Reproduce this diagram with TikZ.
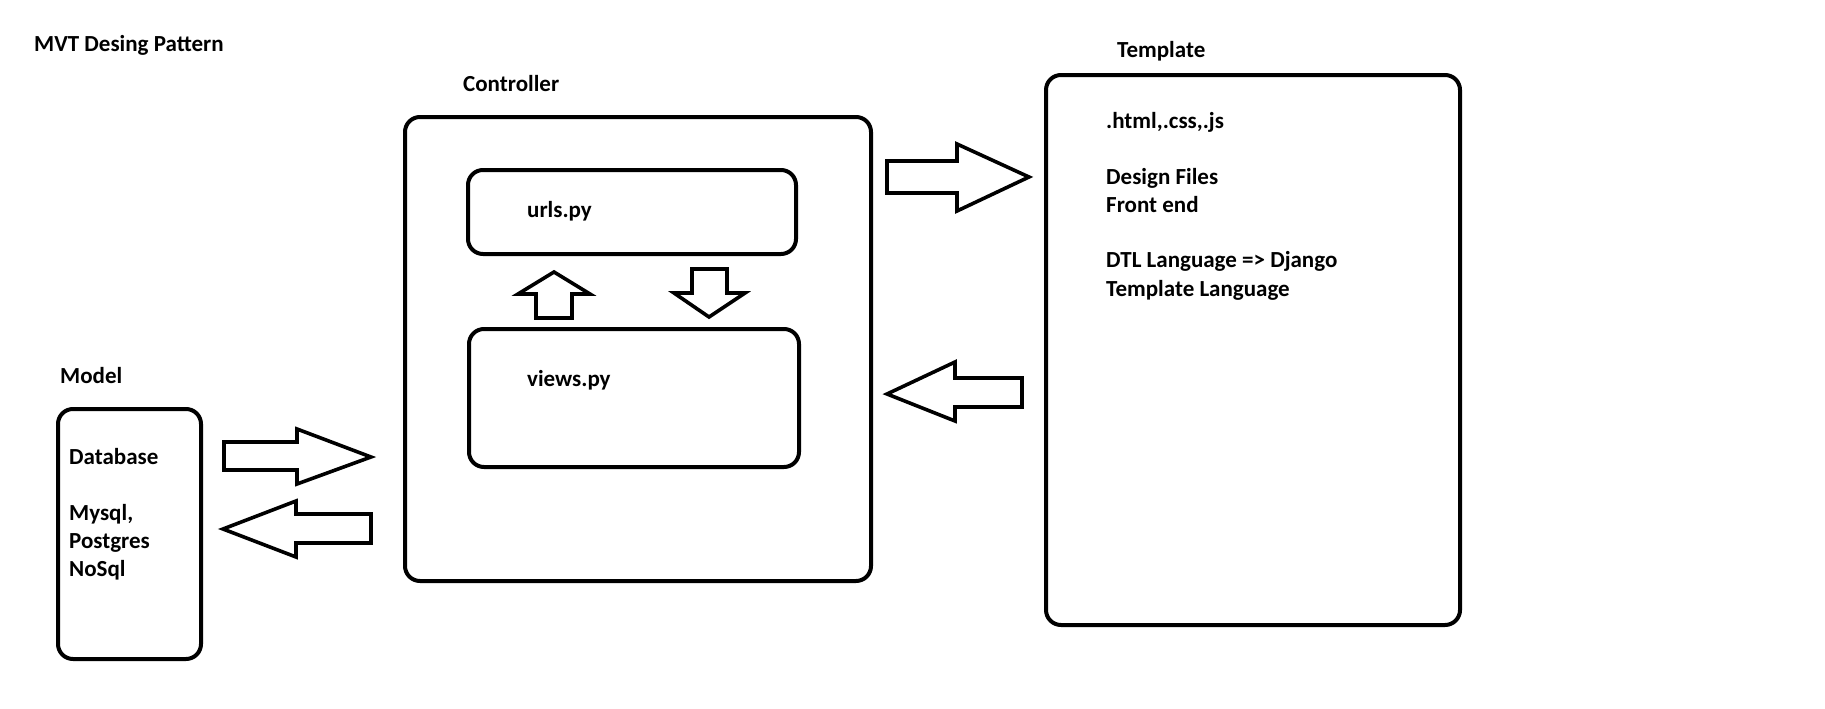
\documentclass[tikz,border=0pt]{standalone}
\usepackage{fontspec}
\setmainfont{Carlito}
\begin{document}
\begin{tikzpicture}[x=1pt,y=-1pt,
  box/.style={draw=black,line width=4pt,rounded corners=15pt,inner sep=0pt},
  lbl/.style={inner sep=0pt,anchor=base west,font=\fontsize{23}{28}\selectfont\bfseries},
  blk/.style={draw=black,line width=3.6pt,fill=white,line join=miter}]
\useasboundingbox (0,0) rectangle (1825,709);
% boxes
\node[box,minimum width=466pt,minimum height=464pt] (ctrl) at (638,349) {};
\node[box,minimum width=328pt,minimum height=84pt] (urls) at (632,212) {};
\node[box,minimum width=330pt,minimum height=138pt] (views) at (634,398) {};
\node[box,minimum width=143pt,minimum height=250pt] (model) at (129.5,534) {};
\node[box,minimum width=414pt,minimum height=550pt] (tmpl) at (1253,350) {};
% titles
\node[lbl] (ttl) at (34,52) {MVT Desing Pattern};
\node[lbl] (ctrlt) at (463,92) {Controller};
\node[lbl] (tmplt) at (1117,58) {Template};
\node[lbl] (modelt) at (60,383) {Model};
% contents
\node[lbl] (urlst) at (527,217) {urls.py};
\node[lbl] (viewst) at (527,386) {views.py};
\node[lbl] (db1) at (69,464) {Database};
\node[lbl] (db2) at (69,520) {Mysql,};
\node[lbl] (db3) at (69,548) {Postgres};
\node[lbl] (db4) at (69,576) {NoSql};
\node[lbl] (t1) at (1106,128) {.html,.css,.js};
\node[lbl] (t2) at (1106,184) {Design Files};
\node[lbl] (t3) at (1106,212) {Front end};
\node[lbl] (t4) at (1106,267) {DTL Language => Django};
\node[lbl] (t5) at (1106,296) {Template Language};
% block arrows
\draw[blk] (224,442) -- (297,442) -- (297,429) -- (371,457) -- (297,484) -- (297,470) -- (224,470) -- cycle;
\draw[blk] (371,514) -- (296,514) -- (296,501) -- (223,529) -- (296,557) -- (296,543) -- (371,543) -- cycle;
\draw[blk] (887,161) -- (957,161) -- (957,144) -- (1029,177) -- (957,211) -- (957,193) -- (887,193) -- cycle;
\draw[blk] (1022,378) -- (955,378) -- (955,362) -- (887,394) -- (955,421) -- (955,407) -- (1022,407) -- cycle;
\draw[blk] (536,318) -- (536,294) -- (518,294) -- (554,272) -- (590,294) -- (572,294) -- (572,318) -- cycle;
\draw[blk] (692,269) -- (727,269) -- (727,293) -- (745,293) -- (709,317) -- (674,293) -- (692,293) -- cycle;
\end{tikzpicture}
\end{document}
